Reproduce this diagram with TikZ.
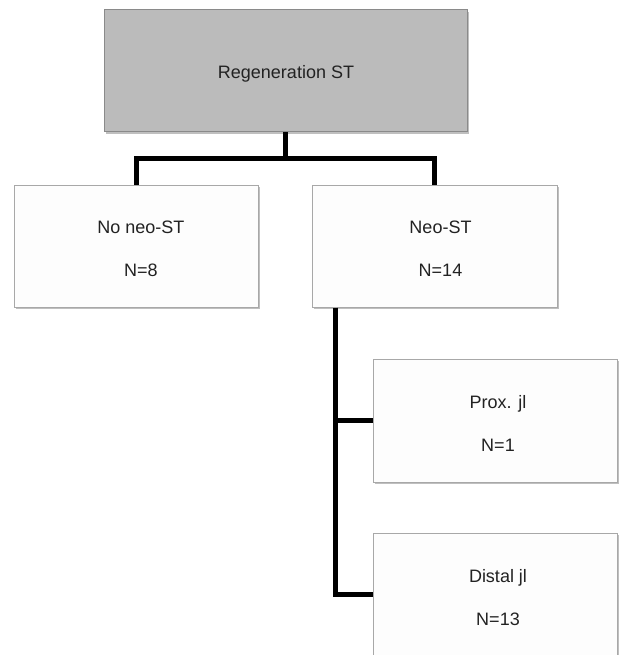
\documentclass[tikz,border=0pt]{standalone}
\usepackage{fontspec}
\setmainfont{Liberation Sans}
\usetikzlibrary{shadows}
\definecolor{topfill}{HTML}{BBBBBB}
\definecolor{topline}{HTML}{8A8A8A}
\definecolor{boxfill}{HTML}{FDFDFD}
\definecolor{boxline}{HTML}{A8A8A8}
\definecolor{txt}{HTML}{222222}
\tikzset{
  box/.style={draw=boxline, fill=boxfill, line width=1pt, rectangle, inner sep=0pt,
    drop shadow={shadow xshift=1.5pt, shadow yshift=-2pt, opacity=0.25, fill=black}},
  topbox/.style={box, draw=topline, fill=topfill},
  boxtext/.style={text=txt, align=center, inner sep=0pt, font=\fontsize{18}{43}\selectfont},
  conn/.style={line width=5pt, draw=black, line join=miter}
}
\begin{document}
\begin{tikzpicture}[x=1pt,y=-1pt]
\useasboundingbox (0,0) rectangle (618,655);
\fill[white] (0,0) rectangle (618,655);
\node[topbox, minimum width=363pt, minimum height=122pt] (top) at (285.5,71) {};
\node[box, minimum width=244pt, minimum height=122pt] (left) at (136,246) {};
\node[box, minimum width=245pt, minimum height=122pt] (right) at (434.5,246) {};
\node[box, minimum width=244pt, minimum height=123pt] (prox) at (495,420.5) {};
\node[box, minimum width=244pt, minimum height=122pt] (distal) at (495,594) {};
\node[boxtext] (toptxt) at ([xshift=0.5pt,yshift=-3pt]top.center) {Regeneration ST};
\node[boxtext] (lefttxt) at ([xshift=5pt,yshift=-3pt]left.center) {No neo-ST\\N=8};
\node[boxtext] (righttxt) at ([xshift=6pt,yshift=-3pt]right.center) {Neo-ST\\N=14};
\node[boxtext] (proxtxt) at ([xshift=3pt,yshift=-3pt]prox.center) {Prox. jl\\N=1};
\node[boxtext] (distaltxt) at ([xshift=3pt,yshift=-3.5pt]distal.center) {Distal jl\\N=13};
\coordinate (hub) at ([yshift=-26pt]top.south);
\coordinate (trunk) at ([xshift=24pt]right.south west);
\draw[conn] (top.south) -- (hub);
\draw[conn] (left.north) |- (hub) -| (right.north);
\draw[conn] (trunk) |- (prox.west);
\draw[conn] (trunk) |- (distal.west);
\end{tikzpicture}
\end{document}
